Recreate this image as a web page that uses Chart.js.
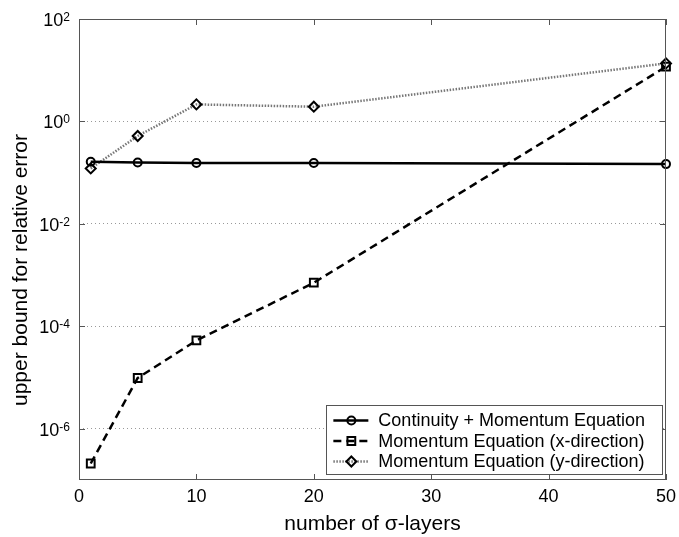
<!DOCTYPE html>
<html>
<head>
<meta charset="utf-8">
<title>Relative error bound vs sigma layers</title>
<script src="https://cdn.jsdelivr.net/npm/chart.js@4.4.0/dist/chart.umd.min.js"></script>
<style>
  html, body { margin: 0; padding: 0; background: #fff; }
  canvas { display: block; }
</style>
</head>
<body>
<canvas id="chart" width="679" height="537"></canvas>
<script>
// number of sigma layers and the error bound of each equation set
const layers = [1, 5, 10, 20, 50];
const continuityMomentum = [0.163, 0.158, 0.155, 0.155, 0.147];
const momentumX = [2.1e-7, 9.8e-6, 5.3e-5, 7.1e-4, 11.7];
const momentumY = [0.121, 0.52, 2.15, 1.94, 13.6];
const seriesNames = ['Continuity + Momentum Equation', 'Momentum Equation (x-direction)', 'Momentum Equation (y-direction)'];

const xTicks = [0, 10, 20, 30, 40, 50];
const yExponents = [2, 0, -2, -4, -6];

const FONT = '"Liberation Sans", Arial, Helvetica, sans-serif';

function pts(ys) {
    return layers.map((l, i) => ({ x: l, y: ys[i] }));
}

function drawMarker(ctx, style, x, y, r) {
    ctx.beginPath();
    if (style === 'circle') {
        ctx.arc(x, y, r, 0, Math.PI * 2);
    } else if (style === 'rect') {
        const s = r * Math.SQRT1_2;
        ctx.rect(x - s, y - s, 2 * s, 2 * s);
    } else {
        ctx.moveTo(x, y - r);
        ctx.lineTo(x + r, y);
        ctx.lineTo(x, y + r);
        ctx.lineTo(x - r, y);
        ctx.closePath();
    }
    ctx.stroke();
}

// frame, inward ticks, labels and legend in the MATLAB look
const axesPlugin = {
    id: 'matlabAxes',
    afterDraw(chart) {
        const { ctx, chartArea: a, scales: { x, y } } = chart;
        ctx.save();

        ctx.strokeStyle = '#555';
        ctx.lineWidth = 1;
        ctx.setLineDash([]);
        ctx.strokeRect(a.left + 0.5, a.top + 0.5, a.right - a.left - 1, a.bottom - a.top - 1);

        ctx.beginPath();
        xTicks.forEach(v => {
            const px = Math.round(x.getPixelForValue(v)) + 0.5;
            ctx.moveTo(px, a.bottom); ctx.lineTo(px, a.bottom - 6);
            ctx.moveTo(px, a.top); ctx.lineTo(px, a.top + 6);
        });
        yExponents.forEach(e => {
            const py = Math.round(y.getPixelForValue(Math.pow(10, e))) + 0.5;
            ctx.moveTo(a.left, py); ctx.lineTo(a.left + 6, py);
            ctx.moveTo(a.right, py); ctx.lineTo(a.right - 6, py);
        });
        ctx.stroke();

        // tick labels
        ctx.fillStyle = '#000';
        ctx.font = '18px ' + FONT;
        ctx.textAlign = 'center';
        ctx.textBaseline = 'top';
        xTicks.forEach(v => {
            ctx.fillText(String(v), x.getPixelForValue(v), a.bottom + 8);
        });

        yExponents.forEach(e => {
            const py = y.getPixelForValue(Math.pow(10, e));
            const exp = String(e);
            ctx.font = '12px ' + FONT;
            const ew = ctx.measureText(exp).width;
            const bx = a.left - 9 - ew;
            ctx.textAlign = 'left';
            ctx.textBaseline = 'alphabetic';
            ctx.fillText(exp, bx, py + 2);
            ctx.font = '18px ' + FONT;
            ctx.textAlign = 'right';
            ctx.fillText('10', bx, py + 7);
        });

        // axis titles
        ctx.font = '21px ' + FONT;
        ctx.textAlign = 'center';
        ctx.textBaseline = 'alphabetic';
        ctx.fillText('number of \u03c3-layers', (a.left + a.right) / 2, 530);

        ctx.save();
        ctx.translate(21, 270);
        ctx.rotate(-Math.PI / 2);
        ctx.textBaseline = 'middle';
        ctx.fillText('upper bound for relative error', 0, 0);
        ctx.restore();

        // legend box
        ctx.font = '18px ' + FONT;
        const maxW = Math.max(...seriesNames.map(s => ctx.measureText(s).width));
        const bw = maxW + 69, bh = 69;
        const bRight = a.right - 4, bBottom = a.bottom - 6;
        const bx0 = bRight - bw, by0 = bBottom - bh;
        ctx.fillStyle = '#fff';
        ctx.fillRect(bx0, by0, bw, bh);
        ctx.strokeStyle = '#555';
        ctx.lineWidth = 1;
        ctx.strokeRect(Math.round(bx0) + 0.5, Math.round(by0) + 0.5, Math.round(bw), Math.round(bh));

        chart.data.datasets.forEach((ds, i) => {
            const cy = by0 + 15.5 + i * 20.5;
            ctx.strokeStyle = ds.borderColor;
            ctx.lineWidth = ds.borderWidth;
            ctx.setLineDash(ds.borderDash || []);
            ctx.beginPath();
            ctx.moveTo(bx0 + 7, cy);
            ctx.lineTo(bx0 + 42, cy);
            ctx.stroke();
            ctx.setLineDash([]);
            ctx.strokeStyle = ds.pointBorderColor;
            ctx.lineWidth = ds.pointBorderWidth;
            drawMarker(ctx, ds.pointStyle, bx0 + 25, cy, ds.pointRadius);
            ctx.fillStyle = '#000';
            ctx.textAlign = 'left';
            ctx.textBaseline = 'middle';
            ctx.fillText(ds.label, bx0 + 52, cy + 1);
        });

        ctx.restore();
    }
};

const chart = new Chart(document.getElementById('chart').getContext('2d'), {
    type: 'line',
    data: {
        datasets: [{
            label: seriesNames[0],
            data: pts(continuityMomentum),
            borderColor: '#000',
            borderWidth: 2.5,
            pointStyle: 'circle',
            pointRadius: 4,
            pointBorderWidth: 2,
            pointBorderColor: '#000',
            pointBackgroundColor: 'rgba(0,0,0,0)',
            clip: false
        }, {
            label: seriesNames[1],
            data: pts(momentumX),
            borderColor: '#000',
            borderWidth: 2.5,
            borderDash: [8, 5],
            pointStyle: 'rect',
            pointRadius: 5.5,
            pointBorderWidth: 2,
            pointBorderColor: '#000',
            pointBackgroundColor: 'rgba(0,0,0,0)',
            clip: false
        }, {
            label: seriesNames[2],
            data: pts(momentumY),
            borderColor: '#777',
            borderWidth: 2.5,
            borderDash: [1.5, 1.5],
            pointStyle: 'rectRot',
            pointRadius: 5,
            pointBorderWidth: 2,
            pointBorderColor: '#000',
            pointBackgroundColor: 'rgba(0,0,0,0)',
            clip: false
        }]
    },
    options: {
        responsive: false,
        animation: false,
        devicePixelRatio: 1,
        layout: { padding: { left: 79, right: 13, top: 19, bottom: 57 } },
        plugins: { legend: { display: false }, tooltip: { enabled: false } },
        scales: {
            x: {
                type: 'linear',
                min: 0,
                max: 50,
                ticks: { display: false },
                grid: { display: false, drawTicks: false },
                border: { display: false }
            },
            y: {
                type: 'logarithmic',
                min: 1e-7,
                max: 100,
                afterBuildTicks(scale) {
                    scale.ticks = yExponents.map(e => ({ value: Math.pow(10, e) }));
                },
                ticks: { display: false },
                grid: { color: '#999', lineWidth: 1, drawTicks: false },
                border: { display: false, dash: [1, 3] }
            }
        }
    },
    plugins: [axesPlugin]
});
</script>
</body>
</html>
